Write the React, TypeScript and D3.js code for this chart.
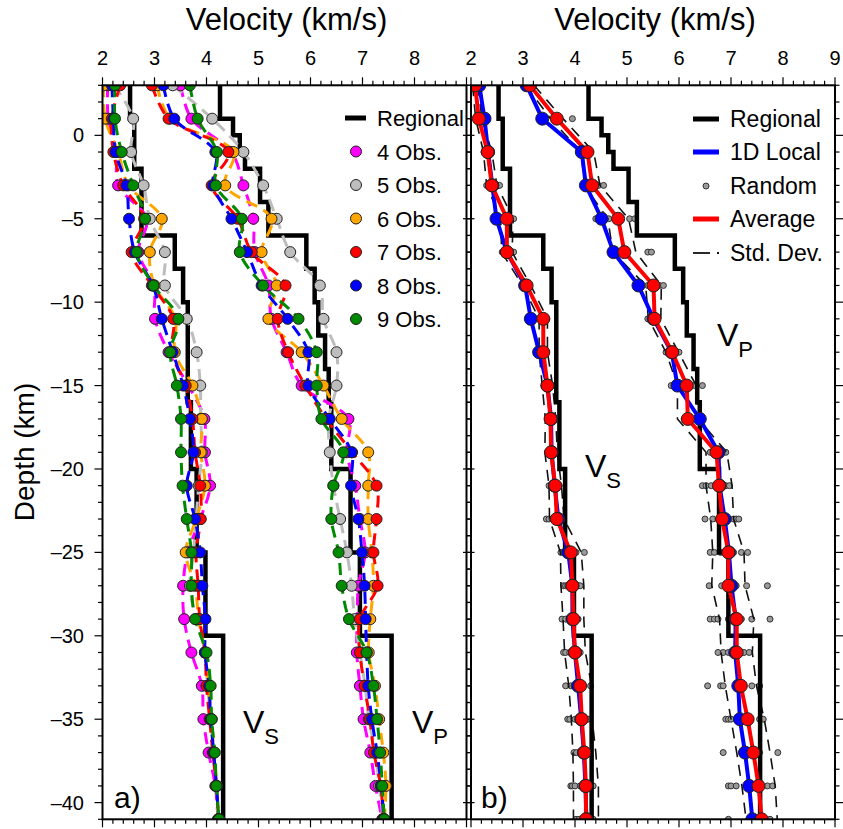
import React from "react";
import * as d3 from "d3";

// ---------------- DATA ----------------
const depths = [3, 1, -1, -3, -5, -7, -9, -11, -13, -15, -17, -19, -21, -23, -25, -27, -29, -31, -33, -35, -37, -39, -41];

// Regional model (layer tops in km, velocity in km/s)
const regVsTops = [3, 1, -2, -6, -8, -10, -16, -20, -25, -30];
const regVsVals = [2.53, 2.61, 2.75, 3.39, 3.55, 3.64, 3.70, 3.81, 3.98, 4.32];
const regVpTops = [3, 1, 0, -1, -2, -4, -6, -8, -10, -12, -14, -16, -20, -25, -30];
const regVpVals = [4.26, 4.51, 4.64, 4.74, 5.03, 5.19, 5.92, 6.08, 6.15, 6.28, 6.35, 6.40, 6.77, 6.95, 7.56];
const regBottom = -41;

// Panel a: inversions with N observations
const obs4Vs = [2.10, 2.11, 2.27, 2.30, 2.85, 2.69, 2.99, 3.01, 3.27, 3.65, 3.96, 3.97, 4.07, 3.88, 3.64, 3.55, 3.57, 3.71, 3.91, 3.94, 4.04, 4.17, 4.22];
const obs5Vs = [2.22, 2.59, 2.55, 2.79, 2.91, 3.20, 3.20, 3.62, 3.81, 3.88, 3.89, 3.91, 3.85, 3.80, 3.75, 3.68, 3.80, 3.97, 4.02, 4.08, 4.14, 4.19, 4.23];
const obs6Vs = [2.02, 2.05, 2.30, 2.50, 3.14, 2.91, 3.00, 3.40, 3.39, 3.73, 3.91, 3.89, 3.97, 3.80, 3.60, 3.78, 3.85, 3.97, 4.03, 4.10, 4.14, 4.20, 4.23];
const obs7Vs = [2.34, 2.18, 2.21, 2.40, 2.80, 2.56, 2.95, 3.36, 3.33, 3.60, 3.73, 3.78, 3.88, 3.89, 3.80, 3.84, 3.87, 3.97, 4.00, 4.06, 4.12, 4.19, 4.23];
const obs8Vs = [2.18, 2.21, 2.25, 2.46, 2.51, 2.62, 2.97, 3.14, 3.35, 3.55, 3.68, 3.75, 3.62, 3.78, 3.88, 3.92, 3.98, 3.97, 4.05, 4.08, 4.14, 4.19, 4.24];
const obs9Vs = [2.24, 2.24, 2.37, 2.59, 2.82, 2.66, 2.98, 3.46, 3.30, 3.43, 3.51, 3.51, 3.54, 3.62, 3.71, 3.71, 3.78, 4.00, 4.08, 4.10, 4.16, 4.19, 4.24];

const obs4Vp = [3.50, 3.71, 4.48, 4.71, 4.90, 4.93, 5.19, 5.25, 5.54, 5.83, 6.73, 6.70, 6.86, 6.95, 7.05, 6.92, 6.90, 6.89, 6.95, 7.02, 7.15, 7.25, 7.38];
const obs5Vp = [3.35, 4.11, 4.71, 5.09, 5.35, 5.61, 6.18, 6.25, 6.50, 6.50, 6.35, 6.37, 6.44, 6.57, 6.70, 6.79, 6.85, 6.95, 7.05, 7.12, 7.25, 7.32, 7.40];
const obs6Vp = [3.05, 3.30, 4.52, 4.36, 5.25, 5.06, 5.35, 5.19, 5.83, 6.25, 6.60, 7.11, 7.11, 7.11, 7.18, 7.21, 7.15, 7.12, 7.24, 7.32, 7.40, 7.45, 7.42];
const obs7Vp = [2.95, 3.27, 4.42, 4.10, 4.60, 4.87, 5.52, 5.37, 5.57, 5.90, 6.30, 6.80, 7.27, 7.27, 7.21, 7.29, 6.95, 6.95, 7.04, 7.14, 7.22, 7.35, 7.40];
const obs8Vp = [3.17, 3.38, 4.17, 4.13, 4.48, 4.78, 5.06, 5.56, 5.96, 5.96, 6.37, 6.79, 6.78, 6.92, 6.99, 7.04, 7.06, 7.08, 7.11, 7.18, 7.28, 7.36, 7.41];
const obs9Vp = [3.68, 3.83, 4.20, 4.18, 4.68, 4.64, 5.09, 5.77, 6.12, 6.12, 6.21, 6.63, 6.44, 6.40, 6.54, 6.60, 6.74, 7.08, 7.21, 7.28, 7.34, 7.38, 7.42];

// Panel b
const localVs = [2.16, 2.26, 2.33, 2.41, 2.49, 2.69, 3.04, 3.15, 3.31, 3.47, 3.54, 3.55, 3.61, 3.68, 3.87, 3.95, 3.95, 4.00, 4.06, 4.12, 4.17, 4.20, 4.22];
const avgVs = [2.08, 2.15, 2.32, 2.40, 2.69, 2.69, 3.07, 3.39, 3.39, 3.47, 3.53, 3.54, 3.62, 3.65, 3.92, 3.95, 3.97, 4.00, 4.10, 4.13, 4.18, 4.21, 4.21];
const localVp = [3.07, 3.37, 4.13, 4.21, 4.51, 4.74, 5.22, 5.51, 5.86, 5.97, 6.40, 6.76, 6.78, 6.88, 6.96, 7.01, 7.09, 7.08, 7.14, 7.17, 7.27, 7.35, 7.41];
const avgVp = [3.13, 3.65, 4.24, 4.33, 4.83, 4.95, 5.51, 5.53, 5.87, 6.15, 6.17, 6.72, 6.77, 6.83, 6.95, 6.95, 7.11, 7.11, 7.19, 7.32, 7.43, 7.53, 7.59];
const stdVs = [0.05, 0.06, 0.08, 0.10, 0.12, 0.10, 0.08, 0.08, 0.08, 0.10, 0.10, 0.12, 0.12, 0.14, 0.20, 0.22, 0.20, 0.20, 0.22, 0.20, 0.22, 0.24, 0.24];
const stdVp = [0.08, 0.12, 0.12, 0.15, 0.20, 0.22, 0.15, 0.12, 0.12, 0.18, 0.20, 0.20, 0.25, 0.22, 0.30, 0.32, 0.33, 0.30, 0.30, 0.32, 0.32, 0.32, 0.30];

const randomVs = [
  [2.05, 2.10, 2.15],
  [2.12, 2.16, 2.20],
  [2.25, 2.30, 2.35, 2.38],
  [2.30, 2.35, 2.45, 2.50, 2.55],
  [2.45, 2.52, 2.60, 2.70, 2.75, 2.82],
  [2.60, 2.64, 2.72, 2.78, 2.82],
  [3.00, 3.05, 3.10, 3.12],
  [3.30, 3.36, 3.42, 3.46],
  [3.33, 3.38, 3.42, 3.45],
  [3.42, 3.47, 3.50, 3.52],
  [3.48, 3.52, 3.56, 3.60],
  [3.47, 3.50, 3.57, 3.60],
  [3.50, 3.55, 3.60, 3.66, 3.70],
  [3.45, 3.50, 3.56, 3.62, 3.70],
  [3.73, 3.78, 3.85, 3.95, 4.02, 4.18],
  [3.78, 3.82, 3.86, 3.92, 4.00, 4.06, 4.10],
  [3.75, 3.82, 3.90, 4.00, 4.06],
  [3.78, 3.82, 3.90, 4.05, 4.10],
  [3.82, 3.92, 3.98, 4.04, 4.12, 4.30],
  [3.86, 3.90, 4.00, 4.12, 4.18, 4.25],
  [3.98, 4.03, 4.15, 4.22, 4.28],
  [3.92, 3.95, 4.00, 4.10, 4.26, 4.30, 4.35],
  [4.02, 4.08, 4.25, 4.28, 4.35],
];
const randomVp = [
  [3.10, 3.20],
  [3.95],
  [4.15, 4.25, 4.30],
  [4.20, 4.35, 4.45, 4.55],
  [4.40, 4.50, 4.65, 5.05, 5.15],
  [4.70, 5.40, 5.47],
  [5.40, 5.55, 5.62, 5.70],
  [5.40, 5.50, 5.56],
  [5.75, 5.80, 5.92, 6.00],
  [5.85, 5.95, 6.10, 6.30, 6.45],
  [6.10, 6.15, 6.25],
  [6.60, 6.70, 6.80, 6.90],
  [6.45, 6.52, 6.62, 6.85, 6.90, 6.97],
  [6.50, 6.65, 6.75, 6.95, 7.05, 7.10, 7.15],
  [6.60, 6.68, 6.80, 7.00, 7.05, 7.20, 7.32],
  [6.58, 6.82, 6.90, 7.10, 7.30, 7.70],
  [6.60, 6.68, 6.75, 6.95, 7.20, 7.40, 7.75],
  [6.75, 6.85, 6.95, 7.25, 7.35],
  [6.55, 6.80, 6.85, 7.10, 7.40, 7.55],
  [6.90, 6.95, 7.00, 7.30, 7.55, 7.62],
  [6.85, 7.20, 7.45, 7.55, 7.90],
  [6.95, 7.00, 7.10, 7.70, 7.80],
  [6.95, 7.55, 7.75],
];

const xTickLabelsA = [2, 3, 4, 5, 6, 7, 8];
const xTickLabelsB = [2, 3, 4, 5, 6, 7, 8, 9];
const yTickLabels = [0, -5, -10, -15, -20, -25, -30, -35, -40];

const obsLabels = ["4 Obs.", "5 Obs.", "6 Obs.", "7 Obs.", "8 Obs.", "9 Obs."];
const obsColors = ["#ff00ff", "#bdbdbd", "#ffa500", "#ff0000", "#0000ff", "#008a00"];
const obsVs = [obs4Vs, obs5Vs, obs6Vs, obs7Vs, obs8Vs, obs9Vs];
const obsVp = [obs4Vp, obs5Vp, obs6Vp, obs7Vp, obs8Vp, obs9Vp];

// ---------------- LAYOUT ----------------
const W = 843;
const H = 829;
const TOP = 85.3;
const BOTTOM = 819.3;
const FONT = "'Liberation Sans', Arial, Helvetica, sans-serif";

const y = d3.scaleLinear().domain([3, -41]).range([TOP, BOTTOM]);
const xA = d3.scaleLinear().domain([2, 9]).range([102.5, 466.5]);
const xB = d3.scaleLinear().domain([2, 9]).range([471, 835]);

function stepPoints(tops: number[], vals: number[], bottom: number): [number, number][] {
  const pts: [number, number][] = [];
  tops.forEach((t, i) => {
    const b = i < tops.length - 1 ? tops[i + 1] : bottom;
    pts.push([vals[i], t]);
    pts.push([vals[i], b]);
  });
  return pts;
}

function Frame({ x, showLabels, labels }: { x: d3.ScaleLinear<number, number>; showLabels: boolean; labels: number[] }) {
  const [x0, x1] = x.range();
  const minorX = d3.range(2, 9.0001, 0.2);
  const minorY = d3.range(3, -41.0001, -1);
  return (
    <g>
      {minorX.map((v, i) => {
        const major = Math.abs(v - Math.round(v)) < 1e-6;
        const len = major ? 8 : 4.5;
        return (
          <g key={"xt" + i}>
            <line x1={x(v)} x2={x(v)} y1={TOP} y2={TOP - len} stroke="#000" strokeWidth={1.2} />
            <line x1={x(v)} x2={x(v)} y1={BOTTOM} y2={BOTTOM + len} stroke="#000" strokeWidth={1.2} />
          </g>
        );
      })}
      {minorY.map((d, i) => {
        const major = Math.round(d) % 5 === 0;
        const len = major ? 8 : 4.5;
        return (
          <g key={"yt" + i}>
            <line x1={x0} x2={x0 - len} y1={y(d)} y2={y(d)} stroke="#000" strokeWidth={1.2} />
            <line x1={x1} x2={x1 + len} y1={y(d)} y2={y(d)} stroke="#000" strokeWidth={1.2} />
          </g>
        );
      })}
      {labels.map((v) => (
        <text key={"xl" + v} x={x(v)} y={65} textAnchor="middle" fontSize={20} fontFamily={FONT}>
          {v}
        </text>
      ))}
      {showLabels &&
        yTickLabels.map((d) => (
          <text key={"yl" + d} x={84} y={y(d) + 7} textAnchor="end" fontSize={20} fontFamily={FONT}>
            {d === 0 ? "0" : "\u2013" + Math.abs(d)}
          </text>
        ))}
      <text x={(x0 + x1) / 2 + 2} y={30} textAnchor="middle" fontSize={31} fontFamily={FONT}>
        Velocity (km/s)
      </text>
      <rect x={x0} y={TOP} width={x1 - x0} height={BOTTOM - TOP} fill="none" stroke="#000" strokeWidth={2} />
    </g>
  );
}

function Regional({ x }: { x: d3.ScaleLinear<number, number> }) {
  const line = d3
    .line<[number, number]>()
    .x((p) => x(p[0]))
    .y((p) => y(p[1]));
  return (
    <g>
      <path d={line(stepPoints(regVsTops, regVsVals, regBottom)) || ""} fill="none" stroke="#000" strokeWidth={4.5} strokeLinejoin="miter" />
      <path d={line(stepPoints(regVpTops, regVpVals, regBottom)) || ""} fill="none" stroke="#000" strokeWidth={4.5} strokeLinejoin="miter" />
    </g>
  );
}

function VLabel({ x, yb, sub }: { x: number; yb: number; sub: string }) {
  return (
    <text x={x} y={yb} fontSize={32} fontFamily={FONT}>
      V
      <tspan fontSize={22} dy={11}>
        {sub}
      </tspan>
    </text>
  );
}

function PanelA() {
  const curve = d3
    .line<number>()
    .x((v) => xA(v))
    .y((_, i) => y(depths[i]))
    .curve(d3.curveCatmullRom.alpha(0.5));
  const [x0, x1] = xA.range();
  return (
    <g>
      <defs>
        <clipPath id="clipA">
          <rect x={x0} y={TOP} width={x1 - x0} height={BOTTOM - TOP} />
        </clipPath>
      </defs>
      <g clipPath="url(#clipA)">
        <Regional x={xA} />
        {obsVs.map((arr, k) => (
          <path key={"ls" + k} d={curve(arr) || ""} fill="none" stroke={obsColors[k]} strokeWidth={3} strokeDasharray="12,7" />
        ))}
        {obsVp.map((arr, k) => (
          <path key={"lp" + k} d={curve(arr) || ""} fill="none" stroke={obsColors[k]} strokeWidth={3} strokeDasharray="12,7" />
        ))}
        {obsVs.map((arr, k) =>
          arr.map((v, i) => (
            <circle key={"ms" + k + "_" + i} cx={xA(v)} cy={y(depths[i])} r={5.5} fill={obsColors[k]} stroke="#222" strokeWidth={1} />
          ))
        )}
        {obsVp.map((arr, k) =>
          arr.map((v, i) => (
            <circle key={"mp" + k + "_" + i} cx={xA(v)} cy={y(depths[i])} r={5.5} fill={obsColors[k]} stroke="#222" strokeWidth={1} />
          ))
        )}
      </g>
      {/* legend */}
      <line x1={345} x2={366} y1={118} y2={118} stroke="#000" strokeWidth={5} />
      <text x={377} y={126} fontSize={22} fontFamily={FONT}>
        Regional
      </text>
      {obsLabels.map((lab, k) => {
        const ly = 151.5 + k * 33.5;
        return (
          <g key={"lg" + k}>
            <circle cx={356} cy={ly} r={5.5} fill={obsColors[k]} stroke="#222" strokeWidth={1} />
            <text x={377} y={ly + 8} fontSize={22} fontFamily={FONT}>
              {lab}
            </text>
          </g>
        );
      })}
      <VLabel x={243} yb={733} sub="S" />
      <VLabel x={412} yb={733} sub="P" />
      <text x={114} y={808} fontSize={30} fontFamily={FONT}>
        a)
      </text>
      <Frame x={xA} showLabels={true} labels={xTickLabelsA} />
    </g>
  );
}

function PanelB() {
  const line = d3
    .line<number>()
    .x((v) => xB(v))
    .y((_, i) => y(depths[i]));
  const [x0, x1] = xB.range();
  const stdLines = (avg: number[], std: number[], key: string) => (
    <g key={key}>
      <path d={line(avg.map((v, i) => v - std[i])) || ""} fill="none" stroke="#111" strokeWidth={1.6} strokeDasharray="11,8" />
      <path d={line(avg.map((v, i) => v + std[i])) || ""} fill="none" stroke="#111" strokeWidth={1.6} strokeDasharray="11,8" />
    </g>
  );
  const randomDots = (rows: number[][], key: string) =>
    rows.map((row, i) =>
      row.map((v, j) => (
        <circle key={key + i + "_" + j} cx={xB(v)} cy={y(depths[i])} r={3} fill="#9a9a9a" stroke="#333" strokeWidth={1} />
      ))
    );
  return (
    <g>
      <defs>
        <clipPath id="clipB">
          <rect x={x0} y={TOP} width={x1 - x0} height={BOTTOM - TOP} />
        </clipPath>
      </defs>
      <g clipPath="url(#clipB)">
        {randomDots(randomVs, "rs")}
        {randomDots(randomVp, "rp")}
        {stdLines(avgVs, stdVs, "sds")}
        {stdLines(avgVp, stdVp, "sdp")}
        <Regional x={xB} />
        <path d={line(localVs) || ""} fill="none" stroke="#0000ff" strokeWidth={4} />
        <path d={line(localVp) || ""} fill="none" stroke="#0000ff" strokeWidth={4} />
        <path d={line(avgVs) || ""} fill="none" stroke="#ff0000" strokeWidth={4} />
        <path d={line(avgVp) || ""} fill="none" stroke="#ff0000" strokeWidth={4} />
        {[localVs, localVp].map((arr, k) =>
          arr.map((v, i) => <circle key={"bl" + k + "_" + i} cx={xB(v)} cy={y(depths[i])} r={6.5} fill="#0000ff" stroke="#222" strokeWidth={1} />)
        )}
        {[avgVs, avgVp].map((arr, k) =>
          arr.map((v, i) => <circle key={"rd" + k + "_" + i} cx={xB(v)} cy={y(depths[i])} r={6.5} fill="#ff0000" stroke="#222" strokeWidth={1} />)
        )}
      </g>
      {/* legend */}
      <line x1={693} x2={719} y1={119} y2={119} stroke="#000" strokeWidth={5} />
      <text x={730} y={127} fontSize={23} fontFamily={FONT}>Regional</text>
      <line x1={693} x2={719} y1={152} y2={152} stroke="#0000ff" strokeWidth={5} />
      <text x={730} y={160} fontSize={23} fontFamily={FONT}>1D Local</text>
      <circle cx={706} cy={186} r={3} fill="#9a9a9a" stroke="#333" strokeWidth={1} />
      <text x={730} y={194} fontSize={23} fontFamily={FONT}>Random</text>
      <line x1={693} x2={719} y1={219} y2={219} stroke="#ff0000" strokeWidth={5} />
      <text x={730} y={227} fontSize={23} fontFamily={FONT}>Average</text>
      <line x1={693} x2={710} y1={253} y2={253} stroke="#111" strokeWidth={1.8} />
      <line x1={717} x2={719} y1={253} y2={253} stroke="#111" strokeWidth={1.8} />
      <text x={730} y={261} fontSize={23} fontFamily={FONT}>Std. Dev.</text>
      <VLabel x={585} yb={477} sub="S" />
      <VLabel x={717} yb={346} sub="P" />
      <text x={481} y={808} fontSize={30} fontFamily={FONT}>
        b)
      </text>
      <Frame x={xB} showLabels={false} labels={xTickLabelsB} />
    </g>
  );
}

export default function App() {
  return (
    <svg
      width={W}
      height={H}
      viewBox={`0 0 ${W} ${H}`}
      style={{ position: "absolute", left: 0, top: 0, background: "#fff" }}
    >
      <rect x={0} y={0} width={W} height={H} fill="#fff" />
      <text transform={`translate(34, 452) rotate(-90)`} textAnchor="middle" fontSize={28} fontFamily={FONT}>
        Depth (km)
      </text>
      <PanelA />
      <PanelB />
    </svg>
  );
}
